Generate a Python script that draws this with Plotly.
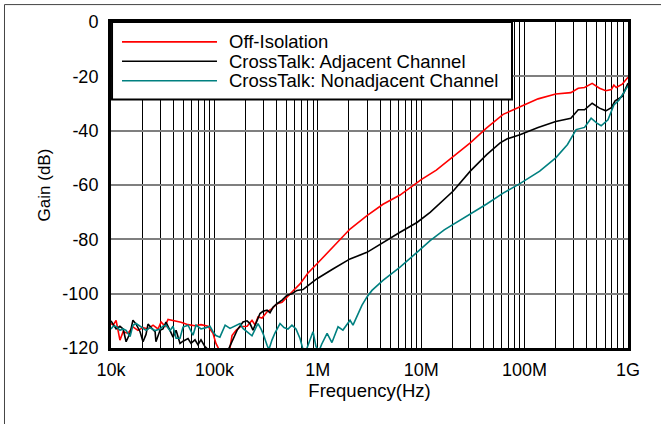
import plotly.graph_objects as go

# ---------------- data ----------------
red_f = [10e3, 10.5e3, 11.2e3, 12.2e3, 13.1e3, 14.6e3, 16.3e3, 18.2e3, 20.4e3, 22.8e3, 25.5e3, 28.5e3,
         30.5e3, 33.3e3, 35.6e3, 41.6e3, 47.5e3, 55.6e3, 64.9e3, 74.2e3, 86.7e3, 96.9e3, 103.5e3,
         110.7e3, 125e3, 141.5e3, 148e3, 162e3, 177e3, 207e3, 231e3, 247e3, 264e3, 289e3, 323e3,
         361e3, 403e3, 451e3, 504e3, 575e3, 673e3, 800e3, 983e3, 1.4e6, 2.05e6, 2.99e6, 4.27e6,
         6.24e6, 10e6, 14e6, 20.4e6, 29.8e6, 43e6, 62e6, 76e6, 90e6, 135e6, 200e6, 280e6, 330e6,
         380e6, 450e6, 530e6, 610e6, 690e6, 730e6, 770e6, 880e6, 970e6, 1e9]
red_db = [-111, -111.6, -109.8, -117.1, -114, -114.6, -112.2, -113.5, -112.5, -113, -111.6, -113,
          -110.4, -112, -109.5, -110, -110.5, -111.4, -111.8, -111.4, -112, -114.6, -118.3,
          -120.5, -121, -120, -115.4, -113.5, -112.2, -112, -109.8, -111.5, -108.6, -109, -106.7,
          -105.5, -103.7, -103.2, -101.1, -99, -96.4, -92.5, -89, -83, -76.2, -71.3, -67.1,
          -63.7, -58, -54.5, -49.4, -44.5, -39, -34, -32.5, -31.3, -28.3, -26.5, -26, -24.4,
          -24.1, -22.6, -24.4, -25.3, -24.9, -23.2, -24.1, -22.9, -20.7, -20.3]

blk_f = [10e3, 10.5e3, 11.2e3, 12.2e3, 13.1e3, 14e3, 15.3e3, 16.3e3, 17.5e3, 19.1e3, 20.4e3, 21.8e3,
         22.8e3, 24.4e3, 26.7e3, 27.2e3, 29.8e3, 31.8e3, 34e3, 37.2e3, 39.8e3, 42.6e3, 46.5e3,
         49.7e3, 55.6e3, 59.4e3, 64.9e3, 69.3e3, 74.2e3, 81.1e3, 86.7e3, 100e3, 120e3, 135e3,
         148e3, 166e3, 189e3, 207e3, 221e3, 236e3, 258e3, 276e3, 295e3, 323e3, 345e3, 369e3,
         403e3, 451e3, 504e3, 562e3, 629e3, 719e3, 804e3, 983e3, 1.4e6, 2.05e6, 2.99e6, 4.27e6,
         6.24e6, 9.1e6, 12.2e6, 20.4e6, 29.8e6, 43e6, 58e6, 68e6, 90e6, 135e6, 200e6, 280e6,
         330e6, 380e6, 450e6, 530e6, 610e6, 690e6, 750e6, 880e6, 970e6, 1e9]
blk_db = [-110, -111.2, -113, -112, -113, -117.7, -114.5, -109.8, -111.2, -114, -117.7, -115,
          -111.2, -112.5, -114, -117.7, -113.5, -113, -110.5, -113.5, -116, -113.5, -118.3,
          -117.5, -116.5, -118.3, -117, -118.8, -117, -119.5, -120.5, -122, -122, -121,
          -117.7, -113.4, -110.4, -110, -111, -113.4, -110, -107.3, -106.5, -106.1, -107, -105,
          -103.7, -102.4, -100.6, -100, -98.8, -98.5, -97, -94.5, -90.9, -87.2, -84.8, -81.1,
          -77.4, -73.8, -70.1, -62.2, -54.9, -48.8, -44.5, -43, -41.5, -38.8, -36.6, -35.4,
          -32.3, -32.3, -29.9, -31.7, -32.7, -31.5, -29, -27.4, -23.8, -22.5]

teal_f = [10e3, 10.5e3, 11.2e3, 12.2e3, 13.1e3, 14e3, 15.3e3, 16.3e3, 17.5e3, 19.1e3, 20.4e3, 21.8e3,
          23.8e3, 26.7e3, 29.8e3, 31.8e3, 34e3, 37.2e3, 39.8e3, 42.6e3, 46.5e3, 49.7e3, 55.6e3,
          62.1e3, 66.4e3, 74.2e3, 83e3, 90.6e3, 96.9e3, 103.5e3, 113e3, 127e3, 141.5e3, 158e3,
          177e3, 189e3, 207e3, 231e3, 252e3, 264e3, 282e3, 295e3, 323e3, 337e3, 361e3, 385e3,
          431e3, 471e3, 515e3, 562e3, 615e3, 673e3, 719e3, 770e3, 841e3, 899e3, 961e3, 1.03e6,
          1.09e6, 1.23e6, 1.37e6, 1.57e6, 1.75e6, 2.05e6, 2.19e6, 2.45e6, 2.67e6, 2.99e6, 3.34e6,
          4.27e6, 6.24e6, 9.1e6, 12.2e6, 16.7e6, 20.4e6, 29.8e6, 43e6, 62e6, 90e6, 140e6, 200e6,
          260e6, 315e6, 380e6, 440e6, 500e6, 550e6, 640e6, 730e6, 820e6, 970e6, 1e9]
teal_db = [-113, -112, -112, -113.5, -113, -113.5, -115.8, -111.6, -111, -112, -112.5, -113.5,
           -112.5, -113.6, -113, -112, -111.6, -113.6, -112, -116.4, -116.4, -112.3, -111.6,
           -115.3, -111.6, -113, -112.5, -112, -114, -115.4, -116, -111.6, -112.8, -112,
           -111, -112.8, -114, -115.5, -112.5, -111, -113, -114.6, -119, -120.5, -117, -114.5,
           -111, -112.5, -113, -111.6, -113, -116.5, -120.5, -121, -117, -114, -119.5, -121,
           -118.6, -114.6, -118, -112.2, -113.4, -109.8, -111.6, -107.3, -104.3, -101.2, -98.8,
           -95.1, -90.2, -84.8, -80.5, -76.5, -74.5, -70.5, -67, -63, -59.5, -54.9, -50,
           -45.1, -39.6, -38.8, -35.4, -37.2, -38.2, -36, -30.5, -28.7, -24.4, -23.5]

series_names = ["Off-Isolation", "CrossTalk: Adjacent Channel", "CrossTalk: Nonadjacent Channel"]
series_colors = ["#ff0000", "#000000", "#008080"]

x_decades = [1e4, 1e5, 1e6, 1e7, 1e8, 1e9]
x_labels = ["10k", "100k", "1M", "10M", "100M", "1G"]
y_ticks = [0, -20, -40, -60, -80, -100, -120]

# grid positions (1..9 per decade) with labels only at decades
grid_vals, grid_text = [], []
for d, lab in zip(x_decades, x_labels):
    if d < 1e9:
        for m in range(1, 10):
            grid_vals.append(d * m)
            grid_text.append(lab if m == 1 else "")
    else:
        grid_vals.append(d)
        grid_text.append(lab)

FONT = "Liberation Sans, Arial, sans-serif"

fig = go.Figure()
for f, g, name, col in zip([red_f, blk_f, teal_f], [red_db, blk_db, teal_db], series_names, series_colors):
    fig.add_trace(go.Scatter(x=f, y=g, mode="lines", name=name,
                             line=dict(color=col, width=1.6), showlegend=False))

fig.update_layout(
    width=661, height=424,
    margin=dict(l=111, r=33, t=20, b=76),
    paper_bgcolor="white", plot_bgcolor="white",
    font=dict(family=FONT, size=18, color="black"),
    showlegend=False,
)
fig.update_xaxes(type="log", range=[4, 9], tickmode="array", tickvals=grid_vals, ticktext=grid_text,
                 showgrid=True, gridcolor="#000000", gridwidth=1,
                 showline=True, linecolor="black", linewidth=3, mirror=True,
                 ticks="", ticklabelstandoff=3,
                 title=dict(text="Frequency(Hz)", font=dict(size=18.5), standoff=2),
                 zeroline=False)
fig.update_yaxes(range=[-120, 0], tickmode="array", tickvals=y_ticks,
                 ticktext=[str(v) for v in y_ticks],
                 showgrid=True, gridcolor="#7f7f7f", gridwidth=2,
                 showline=True, linecolor="black", linewidth=3, mirror=True,
                 ticks="", ticklabelstandoff=6,
                 title=dict(text="Gain (dB)", font=dict(size=17), standoff=8),
                 zeroline=False)

# manual legend (long line samples like the reference)
shapes = [dict(type="rect", xref="paper", yref="paper", x0=0.002, x1=0.7756, y0=0.762, y1=1.0,
               line=dict(color="black", width=2), fillcolor="white", layer="above")]
rows_y = [0.939, 0.8796, 0.820]
annotations = []
for yy, name, col in zip(rows_y, series_names, series_colors):
    shapes.append(dict(type="line", xref="paper", yref="paper", x0=0.0213, x1=0.205, y0=yy, y1=yy,
                       line=dict(color=col, width=1.6), layer="above"))
    annotations.append(dict(xref="paper", yref="paper", x=0.2244, y=yy, xanchor="left", yanchor="middle",
                            text=name, showarrow=False, font=dict(size=18.5, family=FONT, color="black")))

# outer frame (top and left edges)
shapes.append(dict(type="line", xref="paper", yref="paper", x0=-0.206, x1=1.07, y0=1.0534, y1=1.0534,
                   line=dict(color="#444444", width=1)))
shapes.append(dict(type="line", xref="paper", yref="paper", x0=-0.206, x1=-0.206, y0=1.0534, y1=-0.25,
                   line=dict(color="#444444", width=1)))

fig.update_layout(shapes=shapes, annotations=annotations)
fig.write_html("out.html", config={"displayModeBar": False},
               post_script="document.body.style.margin='0';document.body.style.padding='0';")
